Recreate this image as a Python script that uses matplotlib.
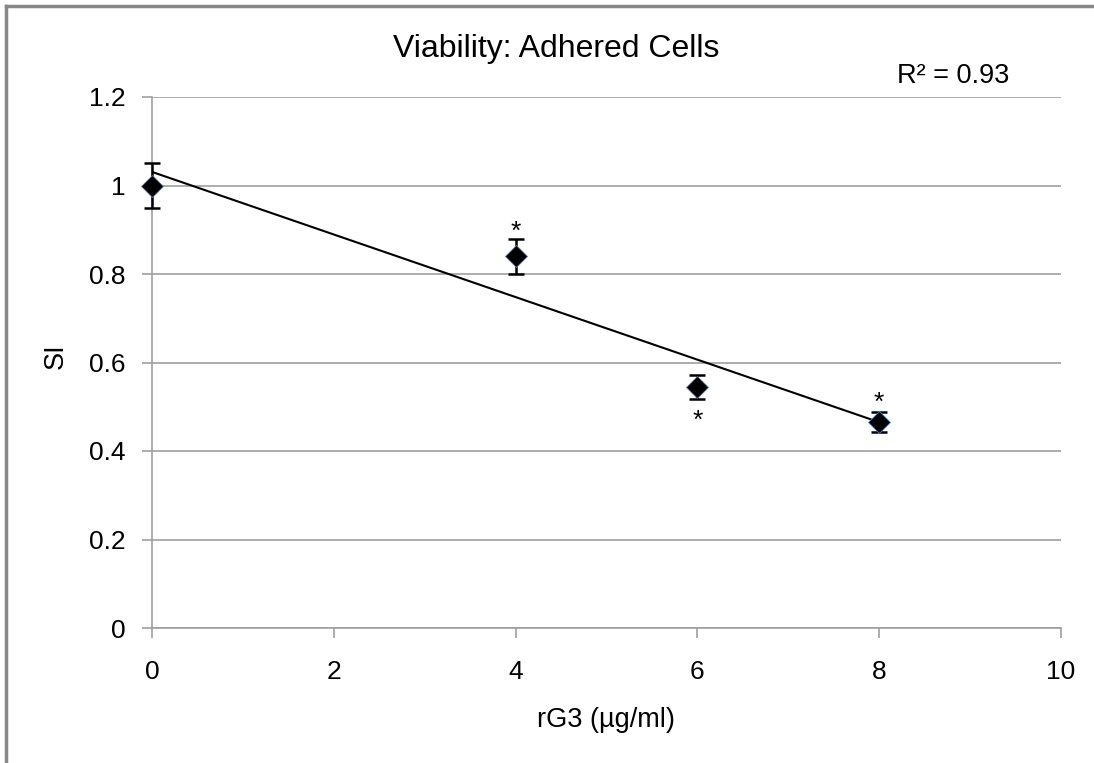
import numpy as np
import matplotlib
matplotlib.use("Agg")
import matplotlib.pyplot as plt
from matplotlib.lines import Line2D

plt.rcParams["font.family"] = ["Liberation Sans", "DejaVu Sans"]

# data
dose = [0, 4, 6, 8]
si = [1.0, 0.84, 0.545, 0.465]
si_err = [0.05, 0.04, 0.027, 0.023]
star_dose = [4, 6, 8]
star_y = [0.895, 0.468, 0.508]
r2_text = "R² = 0.93"

GRID = "#a0a0a0"

fig = plt.figure(figsize=(10.94, 7.63), dpi=100)
ax = fig.add_axes([152/1094, 1 - 628/763, (1061-152)/1094, (628-97)/763])

# linear trendline (Excel style) from the data points
k, b = np.polyfit(dose, si, 1)
xs = np.array([min(dose), max(dose)])
ax.plot(xs, k*xs + b, color="black", lw=1.5, zorder=2)

eb = ax.errorbar(dose, si, yerr=si_err, fmt="none", ecolor="black",
                 elinewidth=1.8, capsize=6, capthick=1.8, zorder=3)
for art in eb.lines[1] + eb.lines[2]:
    art.set_clip_on(False)
ax.plot(dose, si, linestyle="none", marker="D", markersize=11, clip_on=False,
        markerfacecolor="black", markeredgecolor="#4f81bd", markeredgewidth=0.6, zorder=4)

for xd, yd in zip(star_dose, star_y):
    ax.text(xd, yd, "*", ha="center", va="center", fontsize=19, zorder=5)

ax.set_xlim(0, 10)
ax.set_ylim(0, 1.2)
ax.set_xticks(range(0, 11, 2))
ax.set_yticks(np.arange(0, 1.21, 0.2))
ax.set_yticklabels(["0", "0.2", "0.4", "0.6", "0.8", "1", "1.2"])
ax.grid(axis="y", color=GRID, lw=1.2)
ax.set_axisbelow(True)
for s in ("top", "right"):
    ax.spines[s].set_visible(False)
for s in ("left", "bottom"):
    ax.spines[s].set_color(GRID)
    ax.spines[s].set_linewidth(1.2)
ax.tick_params(axis="both", colors=GRID, labelcolor="black", labelsize=19,
               length=7, width=1.2, direction="out")
ax.tick_params(axis="x", pad=16)
ax.tick_params(axis="y", pad=12)

fig.text(606/1094, 1 - 727/763, "rG3 (µg/ml)", ha="center", va="baseline", fontsize=19.5)
fig.text(56/1094, 1 - 356/763, "SI", ha="center", va="center", rotation=90, fontsize=19.5)
fig.text(556/1094, 1 - 57/763, "Viability: Adhered Cells", ha="center", va="baseline", fontsize=23)
fig.text(953/1094, 1 - 83/763, r2_text, ha="center", va="baseline", fontsize=19.5)

# outer chart border (left and top visible)
fig.add_artist(Line2D([6/1094, 6/1094], [0, 1 - 6/763], transform=fig.transFigure, color="#888888", lw=2.5))
fig.add_artist(Line2D([6/1094, 1], [1 - 6/763, 1 - 6/763], transform=fig.transFigure, color="#888888", lw=2.5))

plt.savefig("out.png", dpi=100)
